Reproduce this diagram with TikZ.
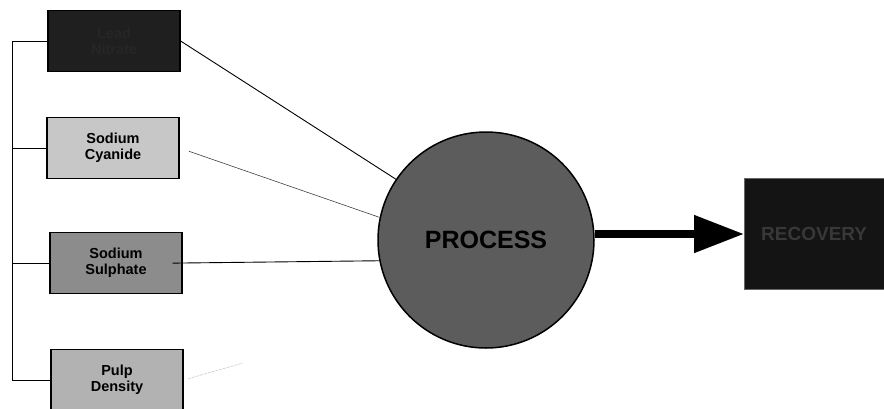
\documentclass[tikz,border=0pt]{standalone}
\usepackage{fontspec}
\setmainfont{Liberation Sans}
\usetikzlibrary{arrows.meta}
\definecolor{boxdark}{gray}{0.12}
\definecolor{boxlight}{gray}{0.78}
\definecolor{boxmid}{gray}{0.55}
\definecolor{boxpale}{gray}{0.70}
\definecolor{procgray}{gray}{0.36}
\begin{document}
\begin{tikzpicture}[x=1pt, y=-1pt,
	every node/.style={font=\fontsize{14.5}{16}\selectfont\bfseries, align=center},
	factor/.style={draw=black, line width=1.2pt, minimum width=132pt, minimum height=61pt, inner sep=0pt},
	feed/.style={line width=0.9pt}]
	\useasboundingbox (0,0) rectangle (884,408);
	\clip (0,0) rectangle (884,408);
	% input factors
	\node[factor, fill=boxdark, text=black!85] (lead) at (114,41) {Lead\\ Nitrate};
	\node[factor, fill=boxlight] (cyan) at (113,148) {Sodium\\ Cyanide};
	\node[factor, fill=boxmid] (sulph) at (116,263) {Sodium\\ Sulphate};
	\node[factor, fill=boxpale] (pulp) at (117,380) {Pulp\\ Density};
	% process and output
	\node[circle, draw=black, line width=1.5pt, fill=procgray, minimum size=216pt, font=\fontsize{25}{27}\selectfont\bfseries] (process) at (486,240) {PROCESS};
	\node[draw=black!60, fill=black!92, minimum width=140pt, minimum height=111pt, anchor=west, font=\fontsize{19}{21}\selectfont\bfseries, text=black!78] (recovery) at (744,234) {RECOVERY};
	% bracket on the left
	\coordinate (rail) at (12,0);
	\draw[feed] (lead.west) -- (lead.west -| rail) -- (pulp.west -| rail) -- (pulp.west);
	\draw[feed] (cyan.west) -- (cyan.west -| rail);
	\draw[feed] (sulph.west) -- (sulph.west -| rail);
	% links into the process
	\draw[feed] (lead.east) -- (process.146);
	\draw[feed, black!75, line width=0.6pt, shorten <=10pt] (cyan.east) -- (process.168);
	\draw[feed, shorten <=-10pt] (sulph.east) -- (process.191);
	\coordinate (pulpend) at (243,363);
	\draw[black!25, line width=0.5pt, dashed, dash pattern=on 3pt off 1pt, shorten <=5pt] (pulp.east) -- (pulpend);
	\draw[line width=8pt, -{Triangle[length=50pt, width=36pt]}] (recovery.west -| process.east) -- (recovery.west);
\end{tikzpicture}
\end{document}
